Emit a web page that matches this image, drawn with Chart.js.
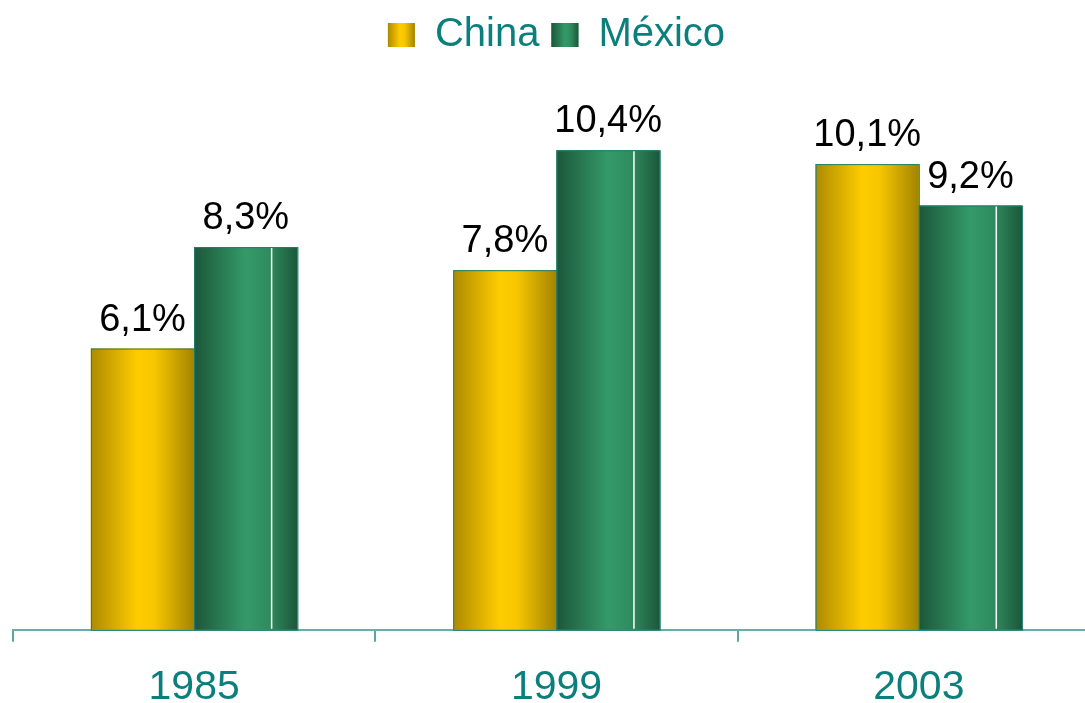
<!DOCTYPE html>
<html>
<head>
<meta charset="utf-8">
<script src="https://cdn.jsdelivr.net/npm/chart.js@4"></script>
<style>
  html, body { margin: 0; padding: 0; background: #fff; overflow: hidden; }
  .wrap { width: 1100px; height: 733px; }
</style>
</head>
<body>
<div class="wrap"><canvas id="chart"></canvas></div>
<script>
const categories = ['1985', '1999', '2003']
const seriesNames = ['China', 'México']
const chinaValues = [6.1, 7.8, 10.1]
const mexicoValues = [8.3, 10.4, 9.2]

const teal = '#0b7f7c'
const fontFamily = "'Liberation Sans', Arial, sans-serif"

// horizontal gradients that give the bars their cylinder look
const gradientStops = [
  [[0, '#ad8a00'], [0.45, '#ffcc00'], [0.62, '#f7c600'], [1, '#a38400']],
  [[0, '#1c573a'], [0.5, '#349a68'], [0.72, '#2f8c5e'], [1, '#1c573a']]
]

const makeGradient = (ctx, left, right, stops) => {
  const g = ctx.createLinearGradient(left, 0, right, 0)
  stops.forEach(s => g.addColorStop(s[0], s[1]))
  return g
}

const formatValue = v => v.toFixed(1).replace('.', ',') + '%'

const barStyle = {
  id: 'barStyle',
  afterDatasetsDraw(chart) {
    const ctx = chart.ctx
    ctx.save()
    chart.data.datasets.forEach((ds, i) => {
      chart.getDatasetMeta(i).data.forEach((bar, j) => {
        const { x, y, width, base } = bar.getProps(['x', 'y', 'width', 'base'], true)
        const left = x - width / 2
        ctx.fillStyle = makeGradient(ctx, left, left + width, gradientStops[i])
        ctx.fillRect(left, y, width, base - y)
        ctx.strokeStyle = '#1f7f74'
        ctx.lineWidth = 1
        ctx.strokeRect(left + 0.5, y + 0.5, width, base - y)
        if (i === 1) {
          ctx.strokeStyle = '#ffffff'
          ctx.lineWidth = 1.5
          ctx.beginPath()
          ctx.moveTo(left + width * 0.75, y + 1)
          ctx.lineTo(left + width * 0.75, base - 1)
          ctx.stroke()
        }
        ctx.fillStyle = '#000000'
        ctx.font = '38px ' + fontFamily
        ctx.textAlign = 'center'
        ctx.textBaseline = 'alphabetic'
        ctx.fillText(formatValue(ds.data[j]), x, y - 18)
      })
    })
    ctx.restore()
  },
  afterDraw(chart) {
    const ctx = chart.ctx
    const legend = chart.legend
    const opts = legend.options.labels
    legend.legendHitBoxes.forEach((box, i) => {
      const top = box.top + (box.height - opts.boxHeight) / 2
      ctx.fillStyle = makeGradient(ctx, box.left, box.left + opts.boxWidth, gradientStops[i])
      ctx.fillRect(box.left, top, opts.boxWidth, opts.boxHeight)
    })
  }
}

const ctx = document.getElementById('chart').getContext('2d')
const config = {
  type: 'bar',
  data: {
    labels: categories,
    datasets: [
      {
        label: seriesNames[0],
        data: chinaValues,
        backgroundColor: '#ffcc00',
        categoryPercentage: 0.57,
        barPercentage: 1
      },
      {
        label: seriesNames[1],
        data: mexicoValues,
        backgroundColor: '#339966',
        categoryPercentage: 0.57,
        barPercentage: 1
      }
    ]
  },
  options: {
    responsive: true,
    maintainAspectRatio: false,
    animation: false,
    layout: {
      padding: { left: 13, right: 0, top: 3, bottom: 0 }
    },
    plugins: {
      tooltip: { enabled: false },
      legend: {
        position: 'top',
        labels: {
          boxWidth: 27,
          boxHeight: 24,
          padding: 12,
          color: teal,
          font: { size: 40, family: fontFamily }
        }
      }
    },
    scales: {
      x: {
        offset: true,
        grid: {
          drawOnChartArea: false,
          drawTicks: true,
          tickLength: 12,
          color: '#5aa6a2',
          lineWidth: 2
        },
        border: { display: true, color: '#6aaeaa', width: 2 },
        ticks: {
          color: teal,
          padding: 21,
          font: { size: 41, family: fontFamily }
        }
      },
      y: {
        display: false,
        min: 0,
        max: 12.25
      }
    }
  },
  plugins: [barStyle]
}

const myChart = new Chart(ctx, config)
</script>
</body>
</html>
